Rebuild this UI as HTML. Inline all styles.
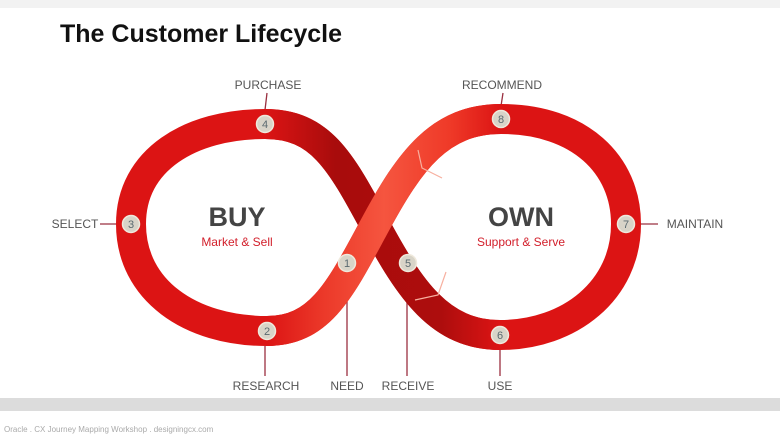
<!DOCTYPE html>
<html><head><style>
body{margin:0;width:780px;height:439px;background:#fff;overflow:hidden;font-family:"Liberation Sans",sans-serif}
</style></head><body>
<svg width="780" height="439" viewBox="0 0 780 439" xmlns="http://www.w3.org/2000/svg" font-family="Liberation Sans, sans-serif">
<defs>
<linearGradient id="dk" gradientUnits="userSpaceOnUse" x1="265" y1="0" x2="500" y2="0">
<stop offset="0" stop-color="#dc1414"/><stop offset="0.3" stop-color="#a80c0c"/><stop offset="0.75" stop-color="#ad0d0d"/><stop offset="1" stop-color="#dc1414"/>
</linearGradient>
<linearGradient id="lt" gradientUnits="userSpaceOnUse" x1="267" y1="0" x2="501" y2="0">
<stop offset="0" stop-color="#dc1414"/><stop offset="0.25" stop-color="#ec3a2a"/><stop offset="0.5" stop-color="#f5553f"/><stop offset="0.78" stop-color="#ef3a28"/><stop offset="1" stop-color="#dc1414"/>
</linearGradient>
</defs>
<rect x="0" y="0" width="780" height="8" fill="#f2f2f2"/>
<text x="60" y="42" font-size="25" font-weight="bold" fill="#111">The Customer Lifecycle</text>
<rect x="0" y="398" width="780" height="13" fill="#dcdcdc"/>
<text x="4" y="432" font-size="8" fill="#aaa">Oracle . CX Journey Mapping Workshop . designingcx.com</text>
<g stroke="#9a3040" stroke-width="1.3">
<line x1="267" y1="93" x2="265" y2="110"/>
<line x1="503" y1="93" x2="501" y2="106"/>
<line x1="100" y1="224" x2="117" y2="224"/>
<line x1="640" y1="224" x2="658" y2="224"/>
<line x1="265" y1="346" x2="265" y2="376"/>
<line x1="347" y1="300" x2="347" y2="376"/>
<line x1="407" y1="290" x2="407" y2="376"/>
<line x1="500" y1="350" x2="500" y2="376"/>
</g>
<path d="M265 124 C190 124,131 160,131 224 C131 290,190 331,267 331 C320 331,340 290,375 225 C410 160,440 119,501 119 C580 119,626 165,626 224 C626 290,570 335,500 335 C440 335,410 290,375 225 C340 160,320 124,265 124 Z" fill="none" stroke="#dc1414" stroke-width="30"/>
<path d="M265 124 C320 124,340 160,375 225 C410 290,440 335,500 335" fill="none" stroke="url(#dk)" stroke-width="30"/>
<path d="M267 331 C320 331,340 290,375 225 C410 160,440 119,501 119" fill="none" stroke="url(#lt)" stroke-width="30"/>
<polyline points="418,150 422,168 442,178" fill="none" stroke="#f7b0a0" stroke-width="1.2"/>
<polyline points="446,272 438,295 415,300" fill="none" stroke="#f7b0a0" stroke-width="1.2"/>
<g fill="#d8d4c8" stroke="#efe9dc" stroke-width="1.5">
<circle cx="265" cy="124" r="8.5"/><circle cx="501" cy="119" r="8.5"/>
<circle cx="131" cy="224" r="8.5"/><circle cx="626" cy="224" r="8.5"/>
<circle cx="267" cy="331" r="8.5"/><circle cx="500" cy="335" r="8.5"/>
<circle cx="347" cy="263" r="8.5"/><circle cx="408" cy="263" r="8.5"/>
</g>
<g font-size="11" fill="#5a6a70" text-anchor="middle">
<text x="265" y="128">4</text><text x="501" y="123">8</text>
<text x="131" y="228">3</text><text x="626" y="228">7</text>
<text x="267" y="335">2</text><text x="500" y="339">6</text>
<text x="347" y="267">1</text><text x="408" y="267">5</text>
</g>
<g font-size="12" fill="#555" text-anchor="middle">
<text x="268" y="89">PURCHASE</text>
<text x="502" y="89">RECOMMEND</text>
<text x="75" y="228">SELECT</text>
<text x="695" y="228">MAINTAIN</text>
<text x="266" y="390">RESEARCH</text>
<text x="347" y="390">NEED</text>
<text x="408" y="390">RECEIVE</text>
<text x="500" y="390">USE</text>
</g>
<g text-anchor="middle">
<text x="237" y="226" font-size="27" font-weight="bold" fill="#444">BUY</text>
<text x="237" y="246" font-size="12" fill="#d21e2a">Market &amp; Sell</text>
<text x="521" y="226" font-size="27" font-weight="bold" fill="#444">OWN</text>
<text x="521" y="246" font-size="12" fill="#d21e2a">Support &amp; Serve</text>
</g>
</svg>
</body></html>
